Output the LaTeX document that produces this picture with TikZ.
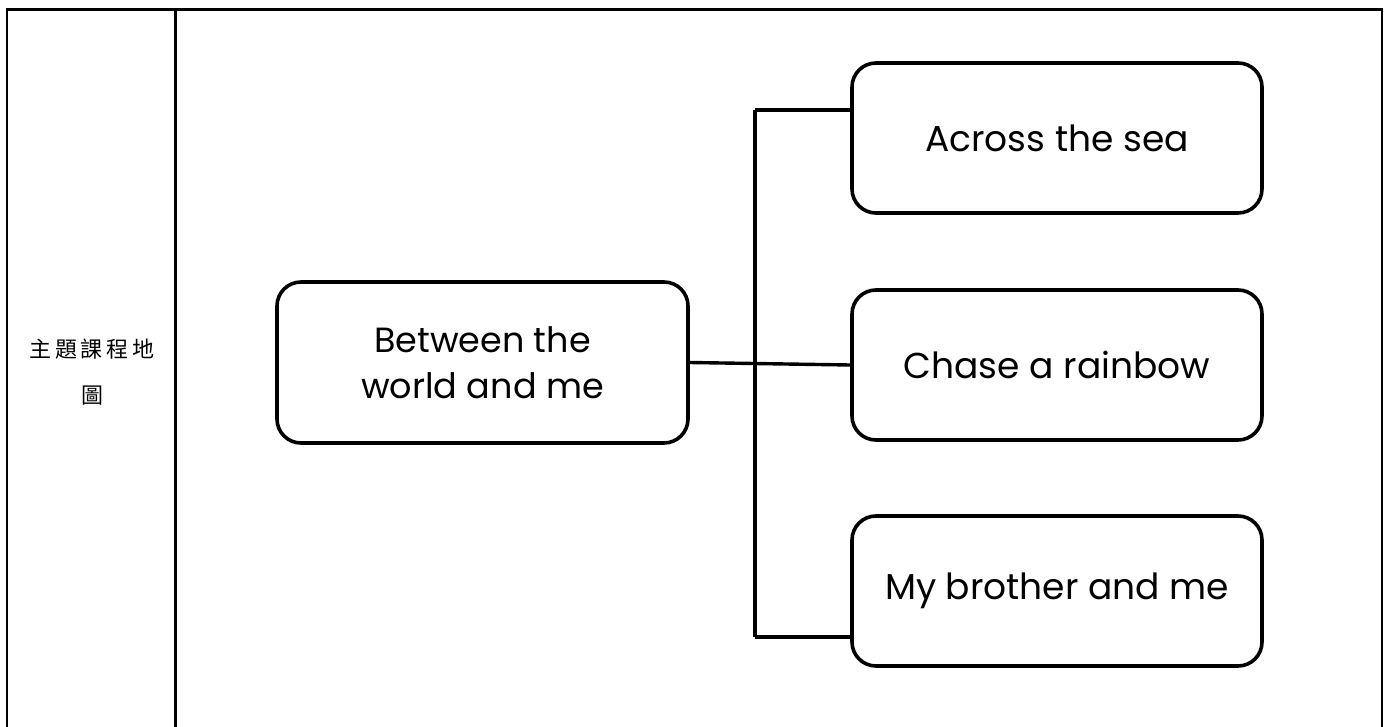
\documentclass[tikz,border=0pt]{standalone}
\usepackage{fontspec}
\setmainfont{Poppins}
\newfontfamily\cjk[LetterSpace=17]{Noto Sans CJK TC}
\usetikzlibrary{calc}
\tikzset{
  tableline/.style={line width=2.2pt, line cap=rect},
  conn/.style={line width=3.4pt},
  topic/.style={draw, line width=3.6pt, rounded corners=24pt, inner sep=0pt, align=center},
  subbox/.style={topic, minimum width=410pt, minimum height=150pt, font=\fontsize{36}{44}\selectfont},
}
\begin{document}
\begin{tikzpicture}[x=1pt,y=-1pt]
\useasboundingbox (0,0) rectangle (1384,727);
% table frame
\coordinate (tl) at (7,9.5);
\coordinate (tm) at (175.5,9.5);
\coordinate (tr) at (1382,9.5);
\coordinate (bl) at (7,727);
\coordinate (bm) at (175.5,727);
\coordinate (br) at (1382,727);
\draw[tableline] (bl) -- (tl) -- (tr) -- (br);
\draw[tableline] (tm) -- (bm);
% left cell label
\node[font=\cjk\fontsize{22}{46}\selectfont, align=center, inner sep=0pt] (label) at (92,372) {主題課程地\\圖};
% main topic
\node[topic, minimum width=411pt, minimum height=161pt, font=\fontsize{35}{46}\selectfont] (main) at (482.5,362.5) {Between the\\world and me};
% sub topics
\node[subbox] (A) at (1057,138) {Across the sea};
\node[subbox] (B) at (1057,365) {Chase a rainbow};
\node[subbox] (C) at (1057,591) {My brother and me};
% connectors
\coordinate (jt) at (755,110);
\coordinate (jb) at (755,637);
\draw[conn] (main.east) -- (B.west);
\draw[conn] (jt) -- (jb);
\draw[conn] (jt) -- (A.west |- jt);
\draw[conn] (jb) -- (C.west |- jb);
\end{tikzpicture}
\end{document}
